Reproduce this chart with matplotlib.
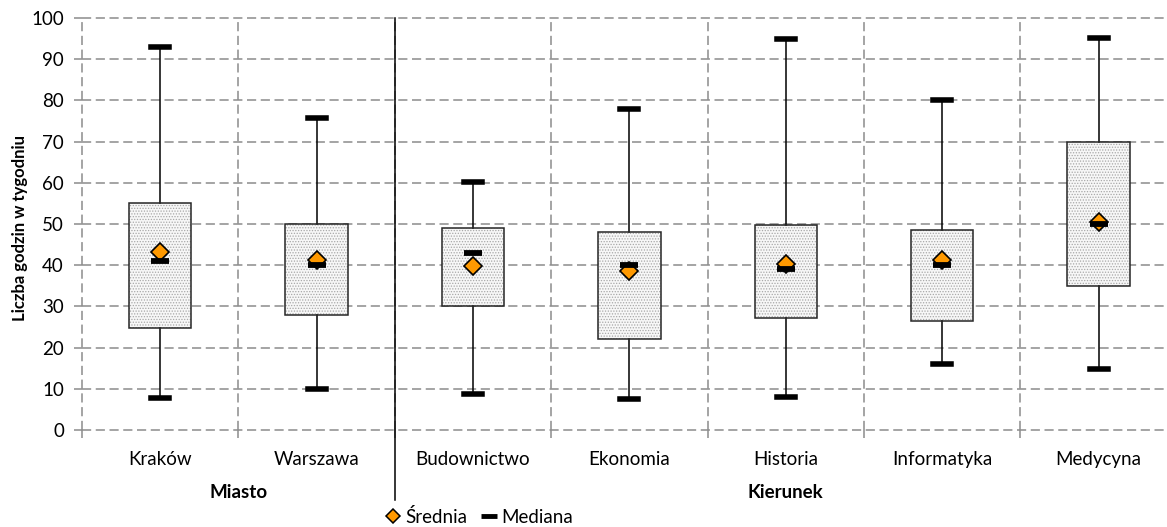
import matplotlib
matplotlib.use("Agg")
import matplotlib.pyplot as plt
from matplotlib.lines import Line2D
from matplotlib.patches import PathPatch

plt.rcParams['font.family'] = ['Lato', 'DejaVu Sans']
plt.rcParams['hatch.color'] = '#a8a8a8'
plt.rcParams['hatch.linewidth'] = 0.6

# values
categories = ['Kraków', 'Warszawa', 'Budownictwo', 'Ekonomia', 'Historia', 'Informatyka', 'Medycyna']
whisk_low = [7.8, 10.0, 8.8, 7.5, 8.1, 15.9, 14.9]
q1 = [24.7, 28.0, 30.0, 22.0, 27.3, 26.5, 35.0]
medians = [41.0, 40.0, 43.0, 40.0, 39.0, 40.0, 50.0]
means = [43.3, 41.2, 39.8, 38.7, 40.3, 41.2, 50.6]
q3 = [55.0, 50.0, 49.0, 48.0, 49.7, 48.6, 70.0]
whisk_high = [93.0, 75.7, 60.3, 78.0, 95.0, 80.0, 95.2]
groups = ['Miasto', 'Kierunek']
group_sizes = [2, 5]

grid_color = '#8c8c8c'
fs = 13.5

fig = plt.figure(figsize=(11.67, 5.27), dpi=100)
ax = fig.add_axes([82 / 1167, 97 / 527, 1 - 82 / 1167, 412 / 527])

positions = list(range(len(categories)))
stats = []
for i in positions:
    stats.append(dict(whislo=whisk_low[i], q1=q1[i], med=medians[i],
                      q3=q3[i], whishi=whisk_high[i], mean=means[i], fliers=[]))

bp = ax.bxp(stats, positions=positions, widths=0.4, capwidths=0.115,
            patch_artist=True, showmeans=False, showfliers=False,
            boxprops=dict(facecolor='#f7f7f7', edgecolor='#a8a8a8', hatch='......', linewidth=0),
            whiskerprops=dict(color='black', linewidth=1.1),
            capprops=dict(color='black', linewidth=4),
            medianprops=dict(linewidth=0))
# outline on top of the hatched box
for box in bp['boxes']:
    ax.add_patch(PathPatch(box.get_path(), fill=False, edgecolor='#262626',
                           linewidth=1.1, zorder=box.get_zorder() + 0.1))

ax.plot(positions, means, linestyle='none', marker='D', markersize=9,
        markerfacecolor='#ff9900', markeredgecolor='black', markeredgewidth=1.2, zorder=5)
ax.plot(positions, medians, linestyle='none', marker='_', markersize=13,
        markeredgewidth=4.2, color='black', zorder=6)

ax.set_ylim(0, 100)
ax.set_xlim(-0.5, -0.5 + (1167 - 82) / 156.4)
ax.set_yticks(range(0, 101, 10))
ax.set_xticks(positions)
ax.set_xticklabels(categories)
ax.set_xticks([p - 0.5 for p in positions], minor=True)

for s in ax.spines.values():
    s.set_visible(False)

ax.tick_params(axis='x', which='major', length=0, pad=15, labelsize=fs)
ax.tick_params(axis='x', which='minor', length=6, color=grid_color, width=1.1)
ax.tick_params(axis='y', length=6, color=grid_color, width=1.1, labelsize=fs, pad=7)

ax.grid(axis='y', which='major', color=grid_color, linestyle=(0, (6, 3)), linewidth=1.1)
ax.grid(axis='x', which='minor', color=grid_color, linestyle=(0, (6, 3)), linewidth=1.1)
ax.set_axisbelow(True)
for t in ax.xaxis.get_minor_ticks() + ax.yaxis.get_major_ticks():
    t.gridline.set_clip_on(False)

# solid separator between the two groups
sep = group_sizes[0] - 0.5
ax.plot([sep, sep], [1, -0.17], transform=ax.get_xaxis_transform(),
        color='black', linewidth=1.1, clip_on=False, zorder=7)

ax.set_ylabel('Liczba godzin w tygodniu', fontsize=12, fontweight='bold')
ax.yaxis.set_label_coords(-0.05, 0.49)

start = 0
for name, n in zip(groups, group_sizes):
    center = start + (n - 1) / 2
    ax.text(center, -0.152, name, transform=ax.get_xaxis_transform(),
            ha='center', va='center', fontsize=fs, fontweight='bold')
    start += n

handles = [Line2D([], [], linestyle='none', marker='D', markersize=7.5,
                  markerfacecolor='#ff9900', markeredgecolor='black', markeredgewidth=1.1),
           Line2D([], [], linestyle='none', marker='_', markersize=11,
                  markeredgewidth=3.5, color='black')]
fig.legend(handles, ['Średnia', 'Mediana'], loc='center', ncol=2,
           bbox_to_anchor=(479 / 1167, 1 - 517 / 527), frameon=False,
           fontsize=fs, handletextpad=0.2, columnspacing=0.7, handlelength=0.9)

fig.savefig('out.png', dpi=100)
